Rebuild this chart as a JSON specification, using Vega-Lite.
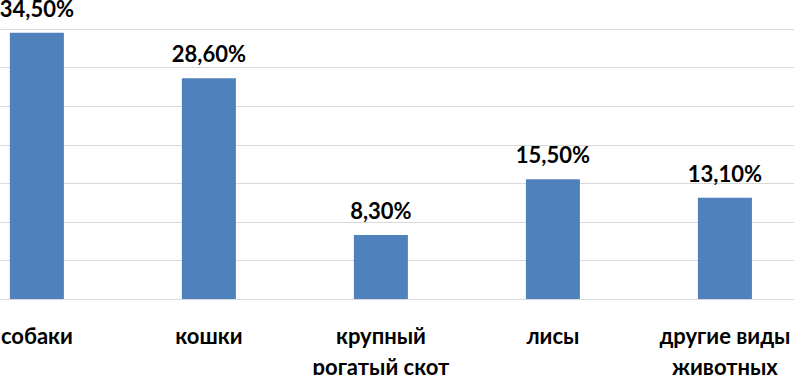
{
  "$schema": "https://vega.github.io/schema/vega-lite/v6.json",
  "width": 794,
  "height": 299,
  "autosize": {"type": "none"},
  "padding": {"left": 0, "top": 0, "right": 0, "bottom": 76},
  "background": "white",
  "config": {"view": {"stroke": null}},
  "data": {
    "values": [
      {"category": "собаки", "value": 34.5},
      {"category": "кошки", "value": 28.6},
      {"category": "крупный рогатый скот", "value": 8.3},
      {"category": "лисы", "value": 15.5},
      {"category": "другие виды животных", "value": 13.1}
    ]
  },
  "encoding": {
    "x": {
      "field": "category",
      "type": "nominal",
      "sort": null,
      "scale": {"paddingInner": 0.686, "paddingOuter": 0.151, "align": 0.19},
      "axis": {
        "title": null,
        "domain": false,
        "ticks": false,
        "tickSize": 0,
        "labelAngle": 0,
        "labelFont": "Lato",
        "labelFontSize": 22,
        "labelFontWeight": "bold",
        "labelColor": "#000000",
        "labelBaseline": "alphabetic",
        "labelPadding": 44,
        "labelLineHeight": 31,
        "labelLimit": 300,
        "labelOverlap": false,
        "labelExpr": "datum.value == 'крупный рогатый скот' ? ['крупный', 'рогатый скот'] : datum.value == 'другие виды животных' ? ['другие виды', 'животных'] : datum.value"
      }
    },
    "y": {
      "field": "value",
      "type": "quantitative",
      "scale": {"domain": [0, 38.73], "nice": false, "zero": true},
      "axis": {
        "title": null,
        "domain": false,
        "ticks": false,
        "labels": false,
        "grid": true,
        "gridColor": "#d9d9d9",
        "gridWidth": 1,
        "values": [0, 5, 10, 15, 20, 25, 30, 35]
      }
    }
  },
  "layer": [
    {"mark": {"type": "bar", "color": "#4f81bd"}},
    {
      "transform": [{"calculate": "replace(format(datum.value, '.2f'), '.', ',') + '%'", "as": "lbl"}],
      "mark": {"type": "text", "font": "Lato", "fontSize": 22, "fontWeight": "bold", "color": "#000000", "baseline": "alphabetic", "dy": -16},
      "encoding": {"text": {"field": "lbl"}}
    }
  ]
}
